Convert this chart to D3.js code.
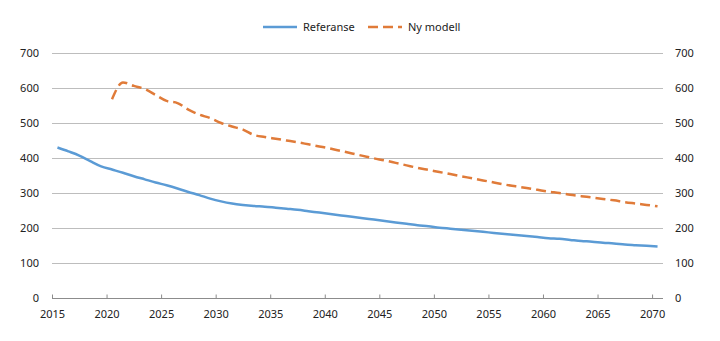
<!DOCTYPE html>
<html lang="no">
<head>
  <meta charset="utf-8" />
  <title>Referanse og ny modell</title>
  <style>
    body { margin: 0; background: #fff; }
    svg text { font-family: "Noto Sans", "Open Sans", sans-serif; font-size: 11px; fill: #222; }
  </style>
  <script src="https://d3js.org/d3.v7.min.js"></script>
</head>
<body>
<script>

// years (one point per year, drawn mid-year like the original)
const years = d3.range(2015, 2071);
const xTicks = d3.range(2015, 2071, 5);
const yTicks = [0, 100, 200, 300, 400, 500, 600, 700];

// Referanse, 2015-2070
const referanse = [430, 419, 407, 391, 376, 367, 358, 348, 339, 330,
  322, 313, 303, 294, 284, 276, 270, 266, 263, 261,
  258, 255, 252, 248, 244, 240, 236, 232, 228, 224,
  220, 216, 212, 208, 205, 201, 198, 195, 192, 189,
  186, 183, 180, 177, 174, 171, 169, 166, 163, 161,
  158, 156, 153, 151, 149, 147];

// Ny modell, starts in 2020
const nyYears = d3.range(2020, 2071);
const nyModell = [568, 616, 606, 597, 580, 563, 557, 538, 524, 514,
  500, 490, 481, 466, 460, 455, 450, 445, 439, 433,
  427, 420, 413, 406, 399, 393, 386, 379, 372, 366,
  360, 354, 348, 342, 336, 330, 324, 319, 314, 309,
  304, 300, 295, 291, 287, 283, 279, 274, 270, 266, 262];

const W = 720, H = 341;
const plot = {left: 52, right: 663, top: 53, bottom: 298};

const svg = d3.select("body").append("svg")
  .attr("width", W)
  .attr("height", H);

const x = d3.scaleLinear().domain([2015, 2071]).range([plot.left, plot.right]);
const y = d3.scaleLinear().domain([0, 700]).range([plot.bottom, plot.top]);

// gridlines
svg.append("g")
  .selectAll("line")
  .data(yTicks.filter(d => d > 0))
  .join("line")
    .attr("x1", plot.left).attr("x2", plot.right)
    .attr("y1", d => y(d) + 0.5).attr("y2", d => y(d) + 0.5)
    .attr("stroke", "#bdbdbd")
    .attr("stroke-width", 1);

// y labels both sides
svg.append("g").selectAll("text")
  .data(yTicks).join("text")
    .attr("x", 39).attr("y", d => y(d))
    .attr("dy", "0.35em")
    .attr("text-anchor", "end")
    .text(d => d);

svg.append("g").selectAll("text")
  .data(yTicks).join("text")
    .attr("x", 675).attr("y", d => y(d))
    .attr("dy", "0.35em")
    .text(d => d);

// x axis
const xAxis = svg.append("g")
  .attr("transform", `translate(0,${plot.bottom + 0.5})`)
  .call(d3.axisBottom(x).tickValues(xTicks).tickFormat(d3.format("d")).tickSizeInner(-4).tickSizeOuter(0).tickPadding(12));
xAxis.select(".domain").attr("stroke", "#8c8c8c").attr("d", `M${plot.left},0H${plot.right}`);
xAxis.selectAll(".tick line").attr("stroke", "#8c8c8c");
xAxis.selectAll(".tick text")
  .style("font-family", "\"Noto Sans\", sans-serif").style("font-size", "11px").attr("fill", "#222");

const line = d3.line()
  .x(d => x(d[0] + 0.5))
  .y(d => y(d[1]))
  .curve(d3.curveMonotoneX);

svg.append("path")
  .datum(years.map((yr, i) => [yr, referanse[i]]))
  .attr("d", line)
  .attr("fill", "none")
  .attr("stroke", "#5b9bd5")
  .attr("stroke-width", 2.5);

svg.append("path")
  .datum(nyYears.map((yr, i) => [yr, nyModell[i]]))
  .attr("d", line)
  .attr("fill", "none")
  .attr("stroke", "#e07b39")
  .attr("stroke-width", 2.5)
  .attr("stroke-dasharray", "10,5");

// legend
const legend = svg.append("g").attr("transform", "translate(0,27)");
legend.append("line")
  .attr("x1", 263).attr("x2", 297)
  .attr("stroke", "#5b9bd5").attr("stroke-width", 2.5);
legend.append("text").attr("x", 303).attr("dy", "0.35em").text("Referanse");
legend.append("line")
  .attr("x1", 368).attr("x2", 402)
  .attr("stroke", "#e07b39").attr("stroke-width", 2.5)
  .attr("stroke-dasharray", "10,5");
legend.append("text").attr("x", 408).attr("dy", "0.35em").text("Ny modell");

</script>
</body>
</html>
